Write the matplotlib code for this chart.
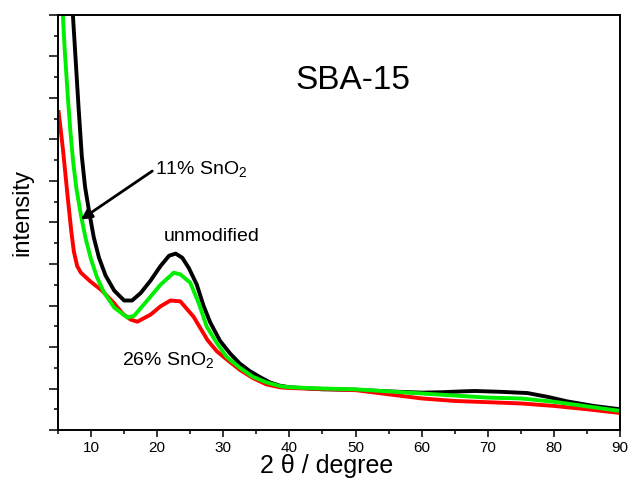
import matplotlib
matplotlib.use("Agg")
import matplotlib.pyplot as plt
from matplotlib.ticker import MultipleLocator, NullFormatter

plt.rcParams['font.family'] = ['Liberation Sans', 'DejaVu Sans']
plt.rcParams['mathtext.default'] = 'regular'

# XRD patterns, 2 theta (degree) vs. intensity (a.u.)
x_unmod = [7.1, 7.6, 8.1, 8.6, 9.1, 9.67, 10.4, 11.2, 12.2, 13.5, 15.0, 16.2, 17.5, 19.0,
           20.5, 21.8, 22.8, 23.8, 24.8, 26.0, 27.0, 28.0, 29.5, 31.0, 32.5, 34.0, 35.5,
           37.0, 38.5, 40.0, 45.0, 50.0, 55.0, 60.0, 63.0, 66.0, 68.0, 72.0, 76.0, 79.0,
           82.0, 86.0, 90.0]
y_unmod = [10.4, 9.1, 7.8, 6.6, 5.85, 5.3, 4.65, 4.15, 3.72, 3.36, 3.12, 3.12, 3.3, 3.6,
           3.95, 4.2, 4.25, 4.15, 3.9, 3.5, 3.0, 2.6, 2.15, 1.85, 1.6, 1.42, 1.28,
           1.15, 1.07, 1.03, 0.98, 0.97, 0.93, 0.9, 0.91, 0.93, 0.94, 0.92, 0.89, 0.8,
           0.69, 0.58, 0.5]

x_sn11 = [5.6, 6.0, 6.5, 6.9, 7.3, 7.8, 8.5, 9.2, 10.0, 10.9, 11.9, 13.5, 15.5, 16.5, 18.6,
          20.5, 22.5, 23.5, 25.0, 26.3, 27.5, 29.0, 30.5, 32.5, 34.5, 36.5, 38.5, 40.0,
          45.0, 50.0, 55.0, 60.0, 65.0, 70.0, 75.0, 80.0, 85.0, 90.0]
y_sn11 = [10.4, 9.2, 8.0, 7.15, 6.45, 5.8, 5.15, 4.6, 4.11, 3.68, 3.33, 2.95, 2.71, 2.75,
          3.14, 3.5, 3.79, 3.75, 3.55, 3.05, 2.49, 2.1, 1.76, 1.5, 1.28, 1.15, 1.06, 1.03,
          1.0, 0.98, 0.93, 0.88, 0.83, 0.78, 0.76, 0.68, 0.57, 0.46]

x_sn26 = [5.1, 5.75, 6.5, 7.0, 7.4, 7.9, 8.46, 9.97, 11.5, 13.4, 14.8, 16.0, 17.0, 19.0,
          20.5, 22.0, 23.5, 25.5, 27.6, 29.0, 30.6, 32.5, 34.5, 36.5, 38.5, 40.0, 45.0,
          50.0, 55.0, 60.0, 65.0, 70.0, 75.0, 80.0, 85.0, 90.0]
y_sn26 = [7.66, 6.76, 5.56, 4.8, 4.3, 3.95, 3.79, 3.57, 3.38, 3.07, 2.8, 2.66, 2.61, 2.78,
          2.98, 3.12, 3.1, 2.73, 2.17, 1.9, 1.69, 1.45, 1.25, 1.1, 1.03, 1.01, 0.99,
          0.96, 0.86, 0.76, 0.7, 0.67, 0.64, 0.58, 0.5, 0.41]

fig = plt.figure(figsize=(6.29, 4.82), dpi=100)
ax = fig.add_axes([58 / 629, 52 / 482, 562 / 629, 415 / 482])

lw = 2.8
ax.plot(x_unmod, y_unmod, color='black', lw=lw, solid_joinstyle='round')
ax.plot(x_sn26, y_sn26, color='#ff0000', lw=lw, solid_joinstyle='round')
ax.plot(x_sn11, y_sn11, color='#00ee00', lw=lw, solid_joinstyle='round')

ax.set_xlim(5, 90)
ax.set_ylim(0, 10)

ax.xaxis.set_major_locator(MultipleLocator(10))
ax.xaxis.set_minor_locator(MultipleLocator(5))
ax.yaxis.set_major_locator(MultipleLocator(1))
ax.yaxis.set_minor_locator(MultipleLocator(0.5))
ax.yaxis.set_major_formatter(NullFormatter())
ax.tick_params(axis='x', which='major', length=5, width=1.1, direction='out',
               labelsize=11, pad=3)
ax.tick_params(axis='x', which='minor', length=3, width=1.1, direction='out')
ax.tick_params(axis='y', which='major', length=6.5, width=1.1, direction='out')
ax.tick_params(axis='y', which='minor', length=3.2, width=1.1, direction='out')
for s in ax.spines.values():
    s.set_linewidth(1.4)

fig.text(22 / 629, 1 - 212 / 482, 'intensity', rotation=90, fontsize=17,
         ha='center', va='center')
fig.text(327 / 629, 1 - 466 / 482, '2 θ / degree', fontsize=18,
         ha='center', va='center')

ax.text(49.6, 8.41, 'SBA-15', fontsize=24, ha='center', va='center')
ax.text(19.6, 6.16, '11% SnO$_2$', fontsize=14, ha='left', va='baseline')
ax.text(21.0, 4.55, 'unmodified', fontsize=14, ha='left', va='baseline')
ax.text(14.64, 1.57, '26% SnO$_2$', fontsize=14, ha='left', va='baseline')

ax.annotate('', xy=(8.46, 5.07), xytext=(19.26, 6.24),
            arrowprops=dict(arrowstyle='-|>', lw=2, color='black',
                            mutation_scale=16, shrinkA=0, shrinkB=0))

fig.savefig('out.png', dpi=100)
